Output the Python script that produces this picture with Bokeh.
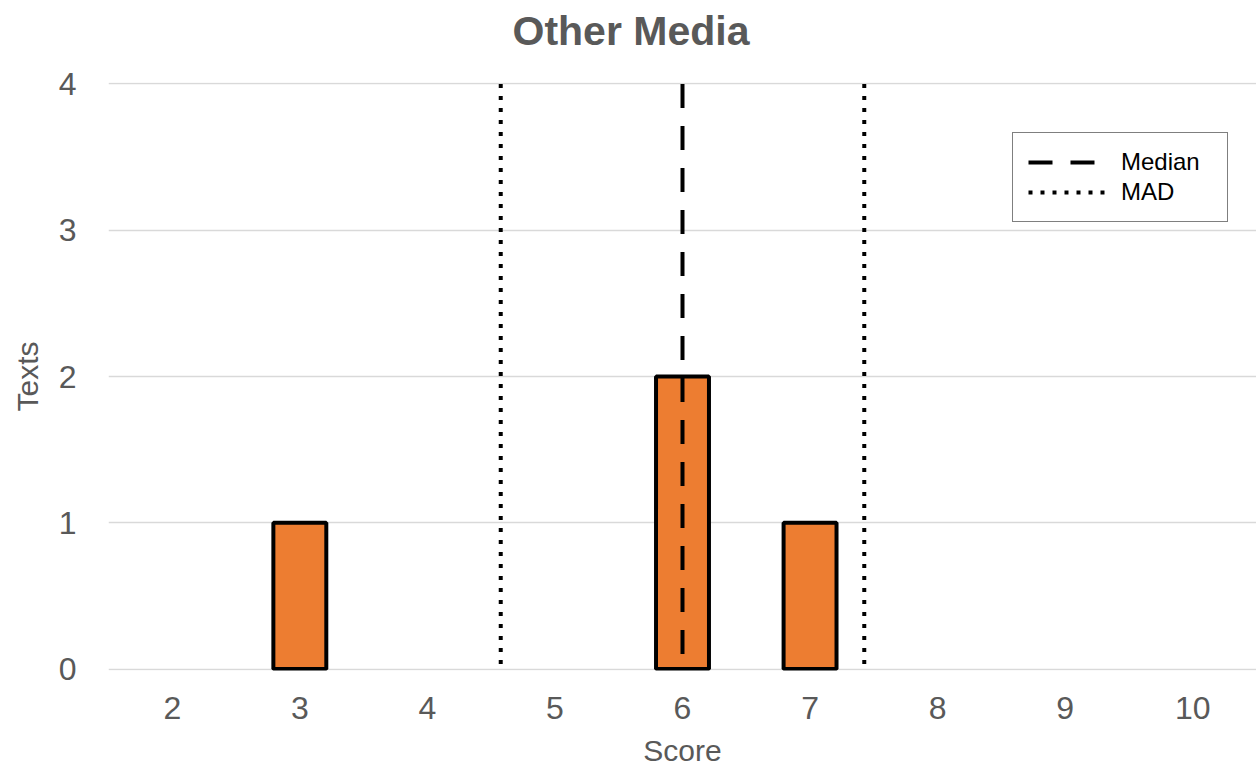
from bokeh.plotting import figure
from bokeh.models import Range1d, FixedTicker, Legend, LegendItem, Title
from bokeh.embed import file_html
from bokeh.resources import INLINE

# ---- data ----
scores = [2, 3, 4, 5, 6, 7, 8, 9, 10]
texts = [0, 1, 0, 0, 2, 1, 0, 0, 0]
median_score = 6.0
mad_score = 1.425
y_ticks = [0, 1, 2, 3, 4]

GRAY = "#595959"
FONT = "Liberation Sans"

p = figure(width=1256, height=770, output_backend="svg", toolbar_location=None,
           x_range=Range1d(1.5, 10.5), y_range=Range1d(-0.01, 4.01),
           min_border_left=108, min_border_right=0, min_border_top=82, min_border_bottom=100)
p.outline_line_color = None
p.background_fill_color = "white"
p.title = None

# bars (only non-zero counts are drawn, as in the original)
bx = [s for s, t in zip(scores, texts) if t > 0]
bt = [t for t in texts if t > 0]
p.vbar(x=bx, top=bt, bottom=0, width=0.415, fill_color="#ED7D31",
       line_color="black", line_width=4)

top_y, bot_y = y_ticks[-1], y_ticks[0]
med = p.line(x=[median_score, median_score], y=[top_y, bot_y],
             line_color="black", line_width=4, line_dash="24 18")
mad_lo = p.line(x=[median_score - mad_score] * 2, y=[top_y, bot_y],
                line_color="black", line_width=4, line_dash="4 8")
mad_hi = p.line(x=[median_score + mad_score] * 2, y=[top_y, bot_y],
                line_color="black", line_width=4, line_dash="4 8")

legend = Legend(items=[LegendItem(label="Median", renderers=[med]),
                       LegendItem(label="MAD", renderers=[mad_lo])],
                location=(904, 448))
legend.border_line_color = "black"
legend.border_line_width = 1
legend.background_fill_alpha = 1
legend.margin = 0
legend.padding = 15
legend.spacing = 2
legend.glyph_width = 82
legend.glyph_height = 26
legend.label_height = 26
legend.label_width = 91
legend.label_standoff = 11
legend.label_text_font = FONT
legend.label_text_font_size = "24px"
legend.label_text_color = "black"
legend.label_text_baseline = "middle"
p.add_layout(legend)

# axes
for ax in (p.xaxis[0], p.yaxis[0]):
    ax.axis_line_color = None
    ax.major_tick_line_color = None
    ax.minor_tick_line_color = None
    ax.major_label_text_font = FONT
    ax.major_label_text_font_size = "32px"
    ax.major_label_text_color = GRAY
    ax.axis_label_text_font = FONT
    ax.axis_label_text_font_size = "30px"
    ax.axis_label_text_color = GRAY
    ax.axis_label_text_font_style = "normal"

p.xaxis.major_label_standoff = 20
p.yaxis.major_label_standoff = 26
p.xaxis.ticker = FixedTicker(ticks=scores)
p.yaxis.ticker = FixedTicker(ticks=y_ticks)
p.xaxis.axis_label = "Score"
p.yaxis.axis_label = "Texts"
p.xaxis.axis_label_standoff = 12
p.yaxis.axis_label_standoff = 12

p.xgrid.grid_line_color = None
p.ygrid.grid_line_color = "#D9D9D9"
p.ygrid.grid_line_width = 1.5

# empty spacer between the frame and the title, then the title itself
p.add_layout(Title(text=" ", text_font=FONT, text_font_size="11px"), "above")
p.add_layout(Title(text="Other Media", align="left", offset=404, vertical_align="bottom",
                   text_font=FONT, text_font_size="41px", text_font_style="bold",
                   text_color=GRAY), "above")

open("out.html", "w").write(file_html(p, INLINE))
